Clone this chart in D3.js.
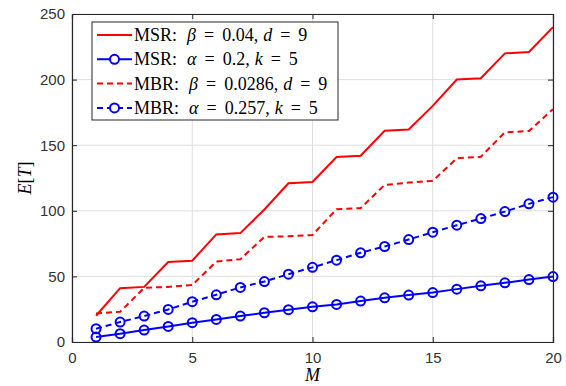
<!DOCTYPE html>
<html>
<head>
<meta charset="utf-8">
<script src="https://cdn.jsdelivr.net/npm/d3@7"></script>
<style>
  body { margin: 0; background: #fff; }
  svg { display: block; }
  .tick text { font-family: "Liberation Sans", Arial, sans-serif; font-size: 15px; fill: #333; }
  .lg text { font-family: "Liberation Serif", "DejaVu Serif", serif; font-size: 18px; fill: #000; }
</style>
</head>
<body>
<script>
const w = 566;
const h = 386;
const margin = {left: 72, right: 13, top: 14, bottom: 44};

// data
const M = d3.range(1, 21);
const msrBeta = [20, 41, 42, 61, 62, 82, 83, 101, 121, 122, 141, 142, 161, 162, 180, 200, 201, 220, 221, 240];
const msrAlpha = [3.8, 6.3, 9.1, 11.9, 14.7, 17.2, 19.8, 22.3, 24.6, 26.8, 28.6, 31.2, 33.7, 35.8, 37.7, 40.3, 42.8, 45.1, 47.6, 49.9];
const mbrBeta = [21.8, 23, 41.3, 42, 43.4, 61.3, 63.1, 80.1, 80.6, 81.6, 101.2, 102, 119.7, 121.5, 122.8, 140, 141.2, 159.8, 160.8, 177.5];
const mbrAlpha = [10.1, 15.2, 19.8, 24.8, 30.7, 36, 41.6, 46.1, 51.7, 56.9, 62.4, 68, 72.8, 78.1, 83.7, 89, 94.1, 99.4, 105.3, 110.4];
const xTicks = [0, 5, 10, 15, 20];
const yTicks = [0, 50, 100, 150, 200, 250];

const series = [
  {name: "MSR", par: "β", val: "0.04", v2: "d", n: "9", values: msrBeta, color: "#ff0000", dash: null, marker: false},
  {name: "MSR", par: "α", val: "0.2", v2: "k", n: "5", values: msrAlpha, color: "#0000ff", dash: null, marker: true},
  {name: "MBR", par: "β", val: "0.0286", v2: "d", n: "9", values: mbrBeta, color: "#ff0000", dash: "6,4", marker: false},
  {name: "MBR", par: "α", val: "0.257", v2: "k", n: "5", values: mbrAlpha, color: "#0000ff", dash: "6,4", marker: true}
];

const svg = d3.select("body").append("svg")
  .attr("width", w)
  .attr("height", h);

const x = d3.scaleLinear().domain([0, 20]).range([margin.left, w - margin.right]);
const y = d3.scaleLinear().domain([0, 250]).range([h - margin.bottom, margin.top]);

// grid
svg.append("g").selectAll("line.gx").data(xTicks).enter().append("line")
  .attr("x1", d => x(d)).attr("x2", d => x(d))
  .attr("y1", y(0)).attr("y2", y(250))
  .attr("stroke", "#dedede").attr("stroke-width", 1);
svg.append("g").selectAll("line.gy").data(yTicks).enter().append("line")
  .attr("x1", x(0)).attr("x2", x(20))
  .attr("y1", d => y(d)).attr("y2", d => y(d))
  .attr("stroke", "#dedede").attr("stroke-width", 1);

// series
const line = d3.line().x((d, i) => x(M[i])).y(d => y(d));
series.forEach(s => {
  svg.append("path")
    .datum(s.values)
    .attr("d", line)
    .attr("fill", "none")
    .attr("stroke", s.color)
    .attr("stroke-width", 2)
    .attr("stroke-dasharray", s.dash);
  if (s.marker) {
    svg.append("g").selectAll("circle").data(s.values).enter().append("circle")
      .attr("cx", (d, i) => x(M[i]))
      .attr("cy", d => y(d))
      .attr("r", 4.5)
      .attr("fill", "none")
      .attr("stroke", s.color)
      .attr("stroke-width", 2);
  }
});

// axes (box with inward ticks)
const xAxis = d3.axisBottom(x).tickValues(xTicks).tickSize(-5).tickPadding(10).tickFormat(d3.format("d"));
const yAxis = d3.axisLeft(y).tickValues(yTicks).tickSize(-5).tickPadding(7);
svg.append("g").attr("transform", `translate(0,${y(0)})`).call(xAxis);
svg.append("g").attr("transform", `translate(${x(0)},0)`).call(yAxis);
svg.append("g").attr("transform", `translate(0,${y(250)})`)
  .call(d3.axisTop(x).tickValues(xTicks).tickSize(-5).tickFormat(""));
svg.append("g").attr("transform", `translate(${x(20)},0)`)
  .call(d3.axisRight(y).tickValues(yTicks).tickSize(-5).tickFormat(""));
svg.selectAll(".domain").attr("stroke", "#262626").attr("stroke-width", 1.2);
svg.selectAll(".tick line").attr("stroke", "#262626");

// axis labels
svg.append("text")
  .attr("x", x(10)).attr("y", 381)
  .attr("text-anchor", "middle")
  .style("font-family", "'Liberation Serif', serif")
  .style("font-style", "italic")
  .style("font-size", "18px")
  .text("M");
svg.append("text")
  .attr("transform", `translate(31,${y(125)}) rotate(-90)`)
  .attr("text-anchor", "middle")
  .style("font-family", "'Liberation Serif', serif")
  .style("font-size", "18px")
  .html('<tspan font-style="italic">E</tspan>[<tspan font-style="italic">T</tspan>]');

// legend
const lg = svg.append("g").attr("class", "lg");
lg.append("rect")
  .attr("x", 92).attr("y", 22).attr("width", 246).attr("height", 98)
  .attr("fill", "#fff").attr("stroke", "#262626").attr("stroke-width", 1);
series.forEach((s, i) => {
  const yy = 35 + i * 24.3;
  lg.append("line")
    .attr("x1", 97).attr("x2", 132).attr("y1", yy).attr("y2", yy)
    .attr("stroke", s.color).attr("stroke-width", 2)
    .attr("stroke-dasharray", s.dash);
  if (s.marker) {
    lg.append("circle").attr("cx", 114.5).attr("cy", yy).attr("r", 4.5)
      .attr("fill", "#fff").attr("stroke", s.color).attr("stroke-width", 2);
  }
  // math-style spacing like LaTeX
  const t = lg.append("text").attr("x", 134).attr("y", yy + 6);
  t.append("tspan").text(s.name + ":");
  t.append("tspan").attr("dx", 10).attr("font-style", "italic").text(s.par);
  t.append("tspan").attr("dx", 8).text("=");
  t.append("tspan").attr("dx", 8).text(s.val + ",");
  t.append("tspan").attr("dx", 5).attr("font-style", "italic").text(s.v2);
  t.append("tspan").attr("dx", 8).text("=");
  t.append("tspan").attr("dx", 8).text(s.n);
});
</script>
</body>
</html>
